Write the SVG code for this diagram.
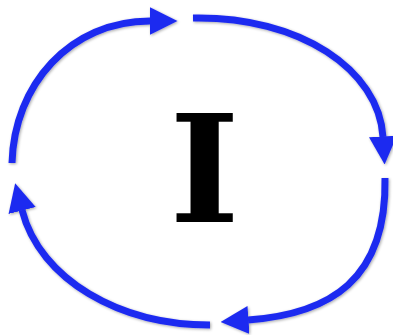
<svg xmlns="http://www.w3.org/2000/svg" width="393" height="335" viewBox="0 0 393 335">
<style>
.arc{fill:none;stroke:#1f2cf0;stroke-width:7;stroke-linecap:butt;marker-end:url(#head);filter:url(#sh)}
.lbl{font-family:"DejaVu Serif","Liberation Serif",serif;font-weight:bold;fill:#000}
</style>
<defs>
<marker id="head" markerUnits="userSpaceOnUse" viewBox="0 0 28 28" refX="0.5" refY="14" markerWidth="28" markerHeight="28" orient="auto">
<path d="M0,0 L28,14 L0,28 Z" fill="#1f2cf0"/>
</marker>
<filter id="sh" filterUnits="userSpaceOnUse" x="0" y="0" width="393" height="335">
<feGaussianBlur in="SourceAlpha" stdDeviation="1.5"/>
<feOffset dx="0.5" dy="1" result="b"/>
<feComponentTransfer><feFuncA type="linear" slope="0.35"/></feComponentTransfer>
<feMerge><feMergeNode/><feMergeNode in="SourceGraphic"/></feMerge>
</filter>
</defs>
<rect width="393" height="335" fill="#fff"/>
<g id="connectors">
<path class="arc" d="M12,163 C14,85 70,21 150,21"/>
<path class="arc" d="M193,18 C300,16 379,70 383,137"/>
<path class="arc" d="M385,178 C387,280 330,314 248,320"/>
<path class="arc" d="M210,325 C120,325 40,280 22,210"/>
</g>
<g id="node-I">
<text class="lbl" x="204.5" y="222" font-size="150" text-anchor="middle">I</text>
</g>
</svg>
